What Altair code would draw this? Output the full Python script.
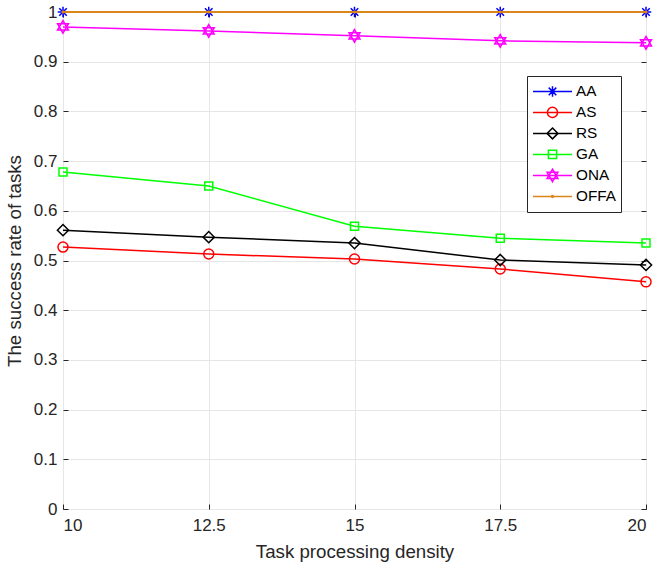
import altair as alt
import pandas as pd

# Task processing density (x) and success rate per scheme (y)
density = [10, 12.5, 15, 17.5, 20]
aa = [1.0, 1.0, 1.0, 1.0, 1.0]
as_ = [0.527, 0.513, 0.503, 0.483, 0.457]
rs = [0.561, 0.547, 0.535, 0.501, 0.491]
ga = [0.678, 0.650, 0.569, 0.545, 0.535]
ona = [0.970, 0.962, 0.952, 0.942, 0.938]
offa = [1.0, 1.0, 1.0, 1.0, 1.0]

series_names = ["AA", "AS", "RS", "GA", "ONA", "OFFA"]
series_values = [aa, as_, rs, ga, ona, offa]
series_colors = ["#0000ff", "#ff0000", "#000000", "#00ff00", "#ff00ff", "#d9861c"]
x_ticks = [10, 12.5, 15, 17.5, 20]
y_ticks = [0, 0.1, 0.2, 0.3, 0.4, 0.5, 0.6, 0.7, 0.8, 0.9, 1]

FONT = "Liberation Sans"
INK = "#262626"


# ---- marker outlines as SVG paths in the unit square, scaled by r ----
def f(v):
    return f"{v:.3f}"


def asterisk(r):
    d = r * 0.72
    return (f"M{f(-r)},0L{f(r)},0M0,{f(-r)}L0,{f(r)}"
            f"M{f(-d)},{f(-d)}L{f(d)},{f(d)}M{f(-d)},{f(d)}L{f(d)},{f(-d)}")


def circle(r):
    return f"M{f(r)},0A{f(r)},{f(r)} 0 1,1 {f(-r)},0A{f(r)},{f(r)} 0 1,1 {f(r)},0Z"


def diamond(r):
    return f"M0,{f(-r)}L{f(r)},0L0,{f(r)}L{f(-r)},0Z"


def square(r):
    return f"M{f(-r)},{f(-r)}L{f(r)},{f(-r)}L{f(r)},{f(r)}L{f(-r)},{f(r)}Z"


def hexagram(r):
    a, b = 0.866 * r, 0.5 * r
    return (f"M0,{f(-r)}L{f(a)},{f(b)}L{f(-a)},{f(b)}Z"
            f"M0,{f(r)}L{f(a)},{f(-b)}L{f(-a)},{f(-b)}Z")


marker_makers = [asterisk, circle, diamond, square, hexagram, circle]
plot_radius = [1.0, 1.0, 1.0, 1.0, 1.0, 0.18]
plot_sizes = [110, 100, 125, 64, 160, 100]
legend_radius = [0.27, 0.26, 0.28, 0.21, 0.32, 0.05]

rows = []
for name, vals in zip(series_names, series_values):
    for xv, yv in zip(density, vals):
        rows.append({"series": name, "density": xv, "rate": yv})
df = pd.DataFrame(rows)

x_scale = alt.Scale(domain=[10, 20], nice=False, zero=False)
y_scale = alt.Scale(domain=[0, 1], nice=False)

x_enc = alt.X(
    "density:Q", scale=x_scale,
    axis=alt.Axis(
        values=x_ticks, format=".3~g", title="Task processing density",
        offset=-5, tickSize=5, labelPadding=8, titlePadding=9,
    ),
)
y_enc = alt.Y(
    "rate:Q", scale=y_scale,
    axis=alt.Axis(
        values=y_ticks, format="~g", title="The success rate of tasks",
        offset=-5, tickSize=5, labelPadding=6, titlePadding=9,
    ),
)

layers = []
for i, name in enumerate(series_names):
    base = alt.Chart(df).transform_filter(alt.datum.series == name)
    line = base.mark_line(
        color=series_colors[i], strokeWidth=2.0 if name == "OFFA" else 1.5
    ).encode(x=x_enc, y=y_enc)
    pts = base.mark_point(
        filled=False, color=series_colors[i], strokeWidth=1.5,
        shape=marker_makers[i](plot_radius[i]), size=plot_sizes[i], opacity=1,
    ).encode(x=x_enc, y=y_enc)
    layers += [line, pts]

# legend entries: a line segment with the series marker on it
legend_shapes = [
    "M-1,0L1,0" + marker_makers[i](legend_radius[i]) for i in range(len(series_names))
]
legend_df = pd.DataFrame({"series": series_names, "density": [None] * 6, "rate": [None] * 6})
leg = alt.Legend(
    title=None, orient="none", legendX=464, legendY=64,
    symbolSize=1521, clipHeight=20.8, rowPadding=0,
    symbolStrokeWidth=1.5, labelOffset=3,
    fillColor="white", strokeColor=INK, padding=5, cornerRadius=0,
    labelFont=FONT, labelFontSize=15.3, labelColor="#000000",
)
legend_layer = alt.Chart(legend_df).mark_point(filled=False, strokeWidth=1.5, opacity=1).encode(
    x=x_enc,
    y=y_enc,
    color=alt.Color("series:N", scale=alt.Scale(domain=series_names, range=series_colors), legend=leg),
    shape=alt.Shape("series:N", scale=alt.Scale(domain=series_names, range=legend_shapes), legend=leg),
)
layers.append(legend_layer)
main = alt.layer(*layers)

# inward tick marks on the top and right edges of the box
box_ticks = alt.Chart(legend_df).mark_point(opacity=0).encode(
    x=alt.X("density:Q", scale=x_scale, axis=alt.Axis(
        orient="top", values=x_ticks, labels=False, title=None, grid=False,
        offset=-5, tickSize=5)),
    y=alt.Y("rate:Q", scale=y_scale, axis=alt.Axis(
        orient="right", values=y_ticks, labels=False, title=None, grid=False,
        offset=-5, tickSize=5)),
)

chart = (
    alt.layer(main, box_ticks)
    .resolve_axis(x="independent", y="independent")
    .properties(
        width=583, height=497,
        autosize=alt.AutoSizeParams(type="none"),
        padding={"left": 63, "top": 12, "right": 8, "bottom": 58},
        background="white",
    )
    .configure_view(stroke=INK, strokeWidth=1)
    .configure_axis(
        domain=False, grid=True, gridColor="#e6e6e6", gridWidth=1,
        tickColor=INK, labelColor=INK, titleColor=INK,
        labelFont=FONT, titleFont=FONT, labelFontSize=17, titleFontSize=18.7,
        titleFontWeight="normal",
    )
)

chart.save("out.html", embed_options={"renderer": "svg", "actions": False})
